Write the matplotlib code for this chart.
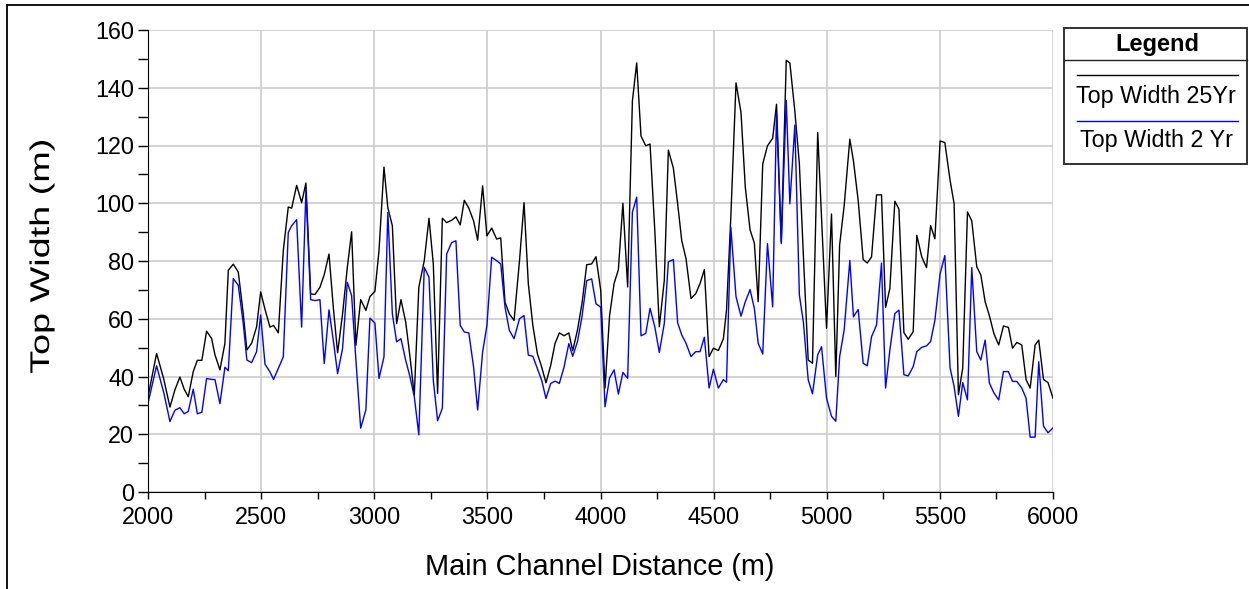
import numpy as np
import matplotlib
matplotlib.use("Agg")
import matplotlib.pyplot as plt
from matplotlib.patches import Rectangle, PathPatch
from matplotlib.lines import Line2D
from matplotlib.ticker import MultipleLocator
from matplotlib.textpath import TextPath
from matplotlib.font_manager import FontProperties
from matplotlib.transforms import Affine2D, IdentityTransform

plt.rcParams['font.family'] = ['Liberation Sans', 'DejaVu Sans']

# main channel stations (m)
distance = [2000, 2038, 2070, 2097, 2119, 2141, 2160, 2178, 2200, 2218, 2238, 2259, 2281, 2296,
            2318, 2340, 2355, 2377, 2399, 2421, 2437, 2458, 2480, 2498, 2517, 2539, 2555, 2576,
            2598, 2620, 2635, 2657, 2679, 2698, 2719, 2738, 2760, 2779, 2800, 2819, 2838, 2860,
            2881, 2900, 2919, 2940, 2963, 2981, 3003, 3021, 3043, 3060, 3080, 3099, 3118, 3139,
            3158, 3177, 3197, 3221, 3242, 3261, 3280, 3301, 3320, 3342, 3361, 3380, 3398, 3418,
            3439, 3457, 3479, 3498, 3519, 3541, 3559, 3578, 3597, 3618, 3642, 3662, 3681, 3701,
            3721, 3740, 3759, 3780, 3799, 3818, 3839, 3860, 3877, 3898, 3918, 3939, 3961, 3980,
            4001, 4020, 4040, 4060, 4079, 4099, 4120, 4141, 4160, 4179, 4200, 4219, 4240, 4260,
            4282, 4300, 4322, 4341, 4359, 4378, 4400, 4421, 4440, 4459, 4480, 4499, 4521, 4543,
            4557, 4576, 4599, 4621, 4640, 4661, 4680, 4697, 4717, 4738, 4761, 4778, 4799, 4821,
            4837, 4859, 4879, 4897, 4918, 4937, 4960, 4977, 4999, 5021, 5040, 5057, 5077, 5102,
            5118, 5139, 5161, 5179, 5198, 5220, 5242, 5260, 5279, 5301, 5319, 5341, 5360, 5382,
            5398, 5420, 5441, 5459, 5478, 5501, 5522, 5545, 5563, 5582, 5601, 5622, 5641, 5663,
            5681, 5700, 5719, 5739, 5760, 5781, 5803, 5821, 5840, 5862, 5881, 5899, 5921, 5937,
            5958, 5978, 6000]

top_width_25yr = [33, 48, 39, 29.4, 35.4, 39.8, 35.6, 33, 41.7, 45.6, 45.6, 55.7, 53.2, 47.5,
                  42.3, 51.5, 76.8, 78.9, 76.2, 61.8, 49.2, 51.5, 57.2, 69.3, 63.3, 57.1, 57.7, 55.1,
                  83.6, 98.7, 98.3, 106.2, 100.2, 107, 68.6, 68.4, 70.9, 75.3, 82.4, 64, 48.2, 61.7,
                  77.8, 90.1, 50.8, 66.6, 62.9, 67.7, 69.5, 83.6, 112.5, 98.5, 92.2, 58.3, 66.6, 58.9,
                  46.8, 33.6, 70.9, 80.1, 94.8, 79, 34.1, 94.8, 93.3, 94.1, 95.3, 92.5, 101, 98.3,
                  93.9, 87.2, 106, 88.7, 91.4, 87.6, 88, 65.7, 61.7, 59.4, 80.1, 100.2, 72.1, 57.7,
                  47.9, 43.3, 37.8, 43.9, 51.4, 55.1, 54.1, 55.1, 48.9, 56, 65.2, 78.7, 79, 81.5,
                  69.8, 36, 61, 72.2, 77, 100, 71, 135.4, 148.6, 123.3, 119.9, 120.5, 90.6, 57.2,
                  73.3, 118.4, 112.2, 99.8, 87.1, 80.8, 67, 68.7, 72.2, 77, 46.9, 49.8, 49, 53,
                  63, 95.2, 141.7, 131.4, 105.5, 90.8, 86.2, 65.9, 113.6, 119.9, 122.5, 134.3, 86.6, 149.5,
                  148.6, 131.9, 113.6, 81.4, 45.7, 44.6, 124.5, 95.2, 56.7, 96.3, 40, 85.6, 99.2, 122.2,
                  114.7, 100.9, 80.5, 79.3, 81.4, 102.9, 102.9, 63.9, 70.5, 100.7, 98, 55.2, 52.9, 55.5,
                  88.9, 81.4, 77.7, 92.3, 87.7, 121.6, 121, 108, 99.8, 33.7, 42.9, 97, 93.9, 78,
                  75.2, 65.9, 61, 54.8, 50.9, 57.5, 57, 49.8, 51.8, 50.9, 38.9, 36, 50.9, 52.6,
                  39, 37.9, 32.5]

top_width_2yr = [30.8, 43.7, 34.3, 24.4, 28.3, 29.2, 27.1, 27.9, 35.6, 27.1, 27.6, 39.3, 39, 38.9,
                 30.6, 43.2, 42, 73.9, 71.6, 58.4, 45.7, 44.8, 48.6, 61.3, 44.3, 41.6, 39, 42.8,
                 46.8, 89.9, 92.2, 94.3, 57.1, 104.5, 66.6, 66.3, 66.6, 44.5, 63.1, 52.5, 41, 49.7,
                 72.6, 68, 45.6, 22.1, 28.4, 60.2, 58.5, 39.3, 46.8, 96.8, 61.7, 52, 53.1, 45.6,
                 39.9, 33, 19.8, 77.8, 74.4, 38.7, 24.7, 29, 82.4, 86.4, 87, 57.7, 55.4, 55.1,
                 43.3, 28.4, 48.5, 57.7, 81.3, 80.1, 79, 64, 56, 53.1, 60, 61.1, 47.4, 47,
                 42.8, 38.7, 32.4, 37.6, 38.4, 37.6, 43.3, 51.4, 47, 52, 60.6, 73.2, 73.8, 65.2,
                 64, 29.5, 39.5, 42.3, 33.9, 41.4, 39.4, 96.9, 102.1, 54.1, 54.9, 63.6, 57.2, 48.3,
                 58.4, 79.7, 80.5, 58.6, 54.4, 51.5, 46.9, 48.6, 48.6, 53.6, 36, 42.5, 36, 38.9,
                 38, 91.7, 67.6, 60.9, 65.9, 70.1, 63.6, 51.5, 47.8, 86, 64.1, 131.3, 86, 135.6,
                 99.8, 127.1, 68.2, 58.6, 38.9, 34, 47.5, 50.3, 32.5, 26.2, 24.5, 46.9, 56.1, 80.2,
                 60.7, 63.2, 44.6, 43.7, 53.8, 57.8, 79.3, 36, 49.2, 61.8, 63, 40.6, 40.2, 43.4,
                 48.6, 50.1, 50.6, 52.1, 59.5, 75.6, 81.9, 43, 36.5, 26.2, 37.9, 31.9, 77.7, 48.6,
                 45.7, 52.6, 37.7, 34.3, 31.9, 41.7, 41.7, 38.3, 38.3, 36, 32.5, 19, 19, 45.1,
                 22.8, 20.5, 22.2]

W, H = 1249, 589
fig = plt.figure(figsize=(W / 100, H / 100), dpi=100)

def fx(px):
    return px / W

def fy(py):
    return 1 - py / H

ax = fig.add_axes([fx(148), fy(492), fx(1053) - fx(148), fy(30) - fy(492)])
ax.plot(distance, top_width_25yr, color="black", linewidth=1.0)
ax.plot(distance, top_width_2yr, color="#0000ff", linewidth=1.0)

ax.set_xlim(2000, 6000)
ax.set_ylim(0, 160)
ax.xaxis.set_major_locator(MultipleLocator(500))
ax.xaxis.set_minor_locator(MultipleLocator(250))
ax.yaxis.set_major_locator(MultipleLocator(20))
ax.yaxis.set_minor_locator(MultipleLocator(10))
ax.grid(True, which="major", color="#cccccc", linewidth=1.2)
ax.set_axisbelow(True)
for s in ["top", "right"]:
    ax.spines[s].set_visible(False)
ax.tick_params(which="both", direction="out", width=1, labelsize=16.8)
ax.tick_params(axis="x", which="both", length=5, pad=5)
ax.tick_params(axis="y", which="both", length=7, pad=3)

fig.text(fx(600), fy(567), "Main Channel Distance (m)", ha="center", va="center", fontsize=20.8)

# y label is drawn stretched along its baseline, like the original
tp = TextPath((0, 0), "Top Width (m)", size=27, prop=FontProperties(family="Liberation Sans"))
ext = tp.get_extents()
tr = (Affine2D().translate(-(ext.x0 + ext.x1) / 2, -(ext.y0 + ext.y1) / 2)
      .scale(232 / ext.width, 1).rotate_deg(90).translate(42, H - 257))
fig.add_artist(PathPatch(tp, transform=tr + IdentityTransform(), facecolor="black",
                         edgecolor="none"))

# outer frame
fig.add_artist(Line2D([fx(7), fx(7)], [fy(5), 0], color="black", linewidth=1.3))
fig.add_artist(Line2D([fx(7), 1], [fy(5), fy(5)], color="black", linewidth=1.3))

# legend box
fig.add_artist(Rectangle((fx(1064), fy(164)), fx(1247) - fx(1064), fy(28) - fy(164),
                         facecolor="white", edgecolor="#222222", linewidth=1.3))
fig.add_artist(Line2D([fx(1064), fx(1247)], [fy(60), fy(60)], color="#222222", linewidth=1.0))
fig.text(fx(1157), fy(44), "Legend", ha="center", va="center", fontsize=17, fontweight="bold")
fig.add_artist(Line2D([fx(1077), fx(1238)], [fy(75), fy(75)], color="black", linewidth=1.0))
fig.text(fx(1156), fy(97), "Top Width 25Yr", ha="center", va="center", fontsize=16.8)
fig.add_artist(Line2D([fx(1077), fx(1238)], [fy(121), fy(121)], color="#0000ff", linewidth=1.0))
fig.text(fx(1156), fy(140), "Top Width 2 Yr", ha="center", va="center", fontsize=16.8)

fig.savefig("out.png", dpi=100)
